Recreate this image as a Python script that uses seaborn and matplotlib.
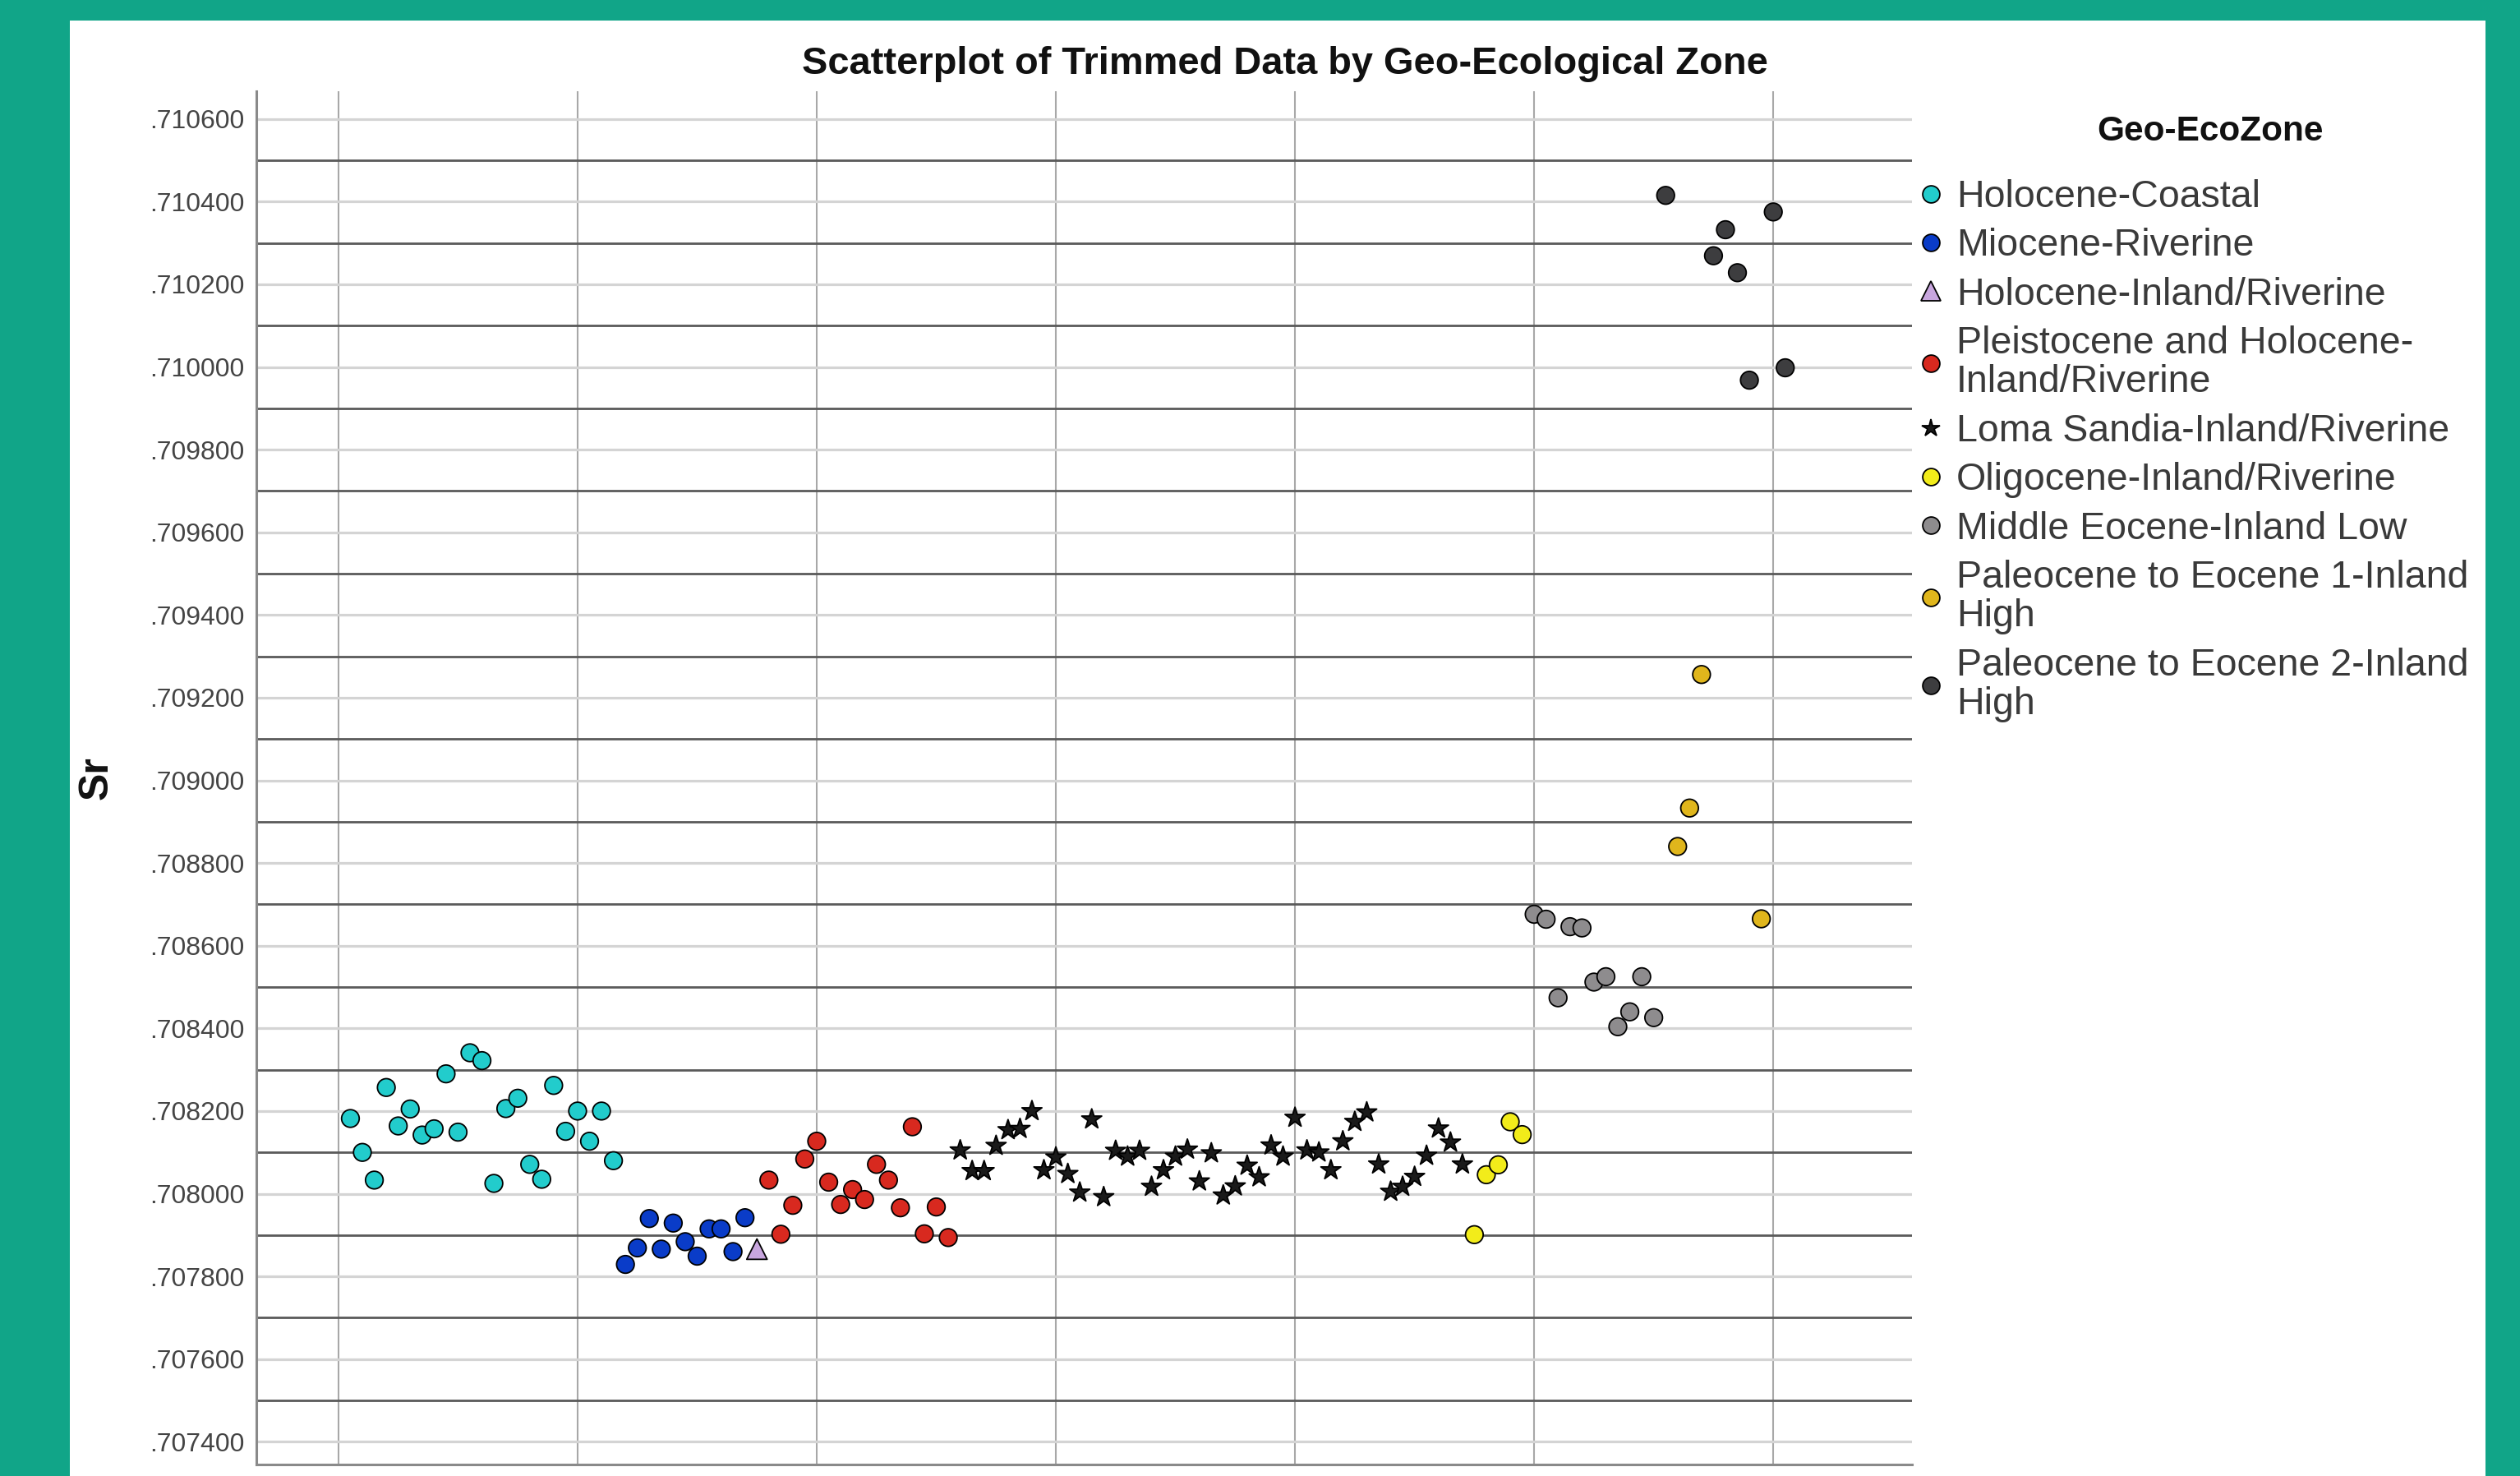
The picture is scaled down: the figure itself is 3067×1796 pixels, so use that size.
import numpy as np
import pandas as pd
import seaborn as sns
import matplotlib.pyplot as plt
from matplotlib.patches import Rectangle
from matplotlib.ticker import FuncFormatter, MultipleLocator

# --- DATA (case number, Sr value) per Geo-EcoZone ---
zones = [
    "Holocene-Coastal",
    "Miocene-Riverine",
    "Holocene-Inland/Riverine",
    "Pleistocene and Holocene-Inland/Riverine",
    "Loma Sandia-Inland/Riverine",
    "Oligocene-Inland/Riverine",
    "Middle Eocene-Inland Low",
    "Paleocene to Eocene 1-Inland High",
    "Paleocene to Eocene 2-Inland High",
]
legend_labels = [
    "Holocene-Coastal",
    "Miocene-Riverine",
    "Holocene-Inland/Riverine",
    "Pleistocene and Holocene-\nInland/Riverine",
    "Loma Sandia-Inland/Riverine",
    "Oligocene-Inland/Riverine",
    "Middle Eocene-Inland Low",
    "Paleocene to Eocene 1-Inland\nHigh",
    "Paleocene to Eocene 2-Inland\nHigh",
]

coastal_case = list(range(1, 24))
coastal_sr = [0.708182, 0.708100, 0.708033, 0.708257, 0.708164, 0.708205, 0.708142,
              0.708157, 0.708290, 0.708149, 0.708341, 0.708322, 0.708025, 0.708206,
              0.708231, 0.708071, 0.708035, 0.708262, 0.708151, 0.708200, 0.708127,
              0.708200, 0.708080]

miocene_case = list(range(24, 35))
miocene_sr = [0.707829, 0.707869, 0.707940, 0.707866, 0.707929, 0.707884, 0.707849,
              0.707915, 0.707915, 0.707860, 0.707942]

holo_inland_case = [35]
holo_inland_sr = [0.707866]

pleisto_case = list(range(36, 52))
pleisto_sr = [0.708033, 0.707902, 0.707972, 0.708084, 0.708127, 0.708028, 0.707974,
              0.708010, 0.707986, 0.708071, 0.708033, 0.707966, 0.708162, 0.707903,
              0.707968, 0.707894]

loma_case = list(range(52, 95))
loma_sr = [0.708105, 0.708055, 0.708055, 0.708116, 0.708154, 0.708157, 0.708200,
           0.708057, 0.708088, 0.708048, 0.708003, 0.708180, 0.707992, 0.708104,
           0.708090, 0.708104, 0.708017, 0.708057, 0.708090, 0.708107, 0.708030,
           0.708098, 0.707996, 0.708018, 0.708068, 0.708040, 0.708117, 0.708090,
           0.708184, 0.708105, 0.708100, 0.708057, 0.708127, 0.708174, 0.708197,
           0.708071, 0.708005, 0.708017, 0.708041, 0.708092, 0.708158, 0.708124,
           0.708071]

oligo_case = list(range(95, 100))
oligo_sr = [0.707901, 0.708046, 0.708070, 0.708174, 0.708143]

mid_eocene_case = list(range(100, 111))
mid_eocene_sr = [0.708676, 0.708664, 0.708474, 0.708646, 0.708643, 0.708512, 0.708525,
                 0.708404, 0.708440, 0.708525, 0.708426]

paleo1_case = [112, 113, 114, 119]
paleo1_sr = [0.708840, 0.708933, 0.709256, 0.708665]

paleo2_case = [111, 115, 116, 117, 118, 120, 121]
paleo2_sr = [0.710415, 0.710269, 0.710332, 0.710228, 0.709968, 0.710375, 0.709998]

cases = [coastal_case, miocene_case, holo_inland_case, pleisto_case, loma_case,
         oligo_case, mid_eocene_case, paleo1_case, paleo2_case]
values = [coastal_sr, miocene_sr, holo_inland_sr, pleisto_sr, loma_sr,
          oligo_sr, mid_eocene_sr, paleo1_sr, paleo2_sr]

colors = ["#22cccc", "#0a3cc8", "#c8a6de", "#d8291f", "#1a1a1a",
          "#f2ec1a", "#8e8c8e", "#e0b61c", "#3d3d3f"]
marker_list = ["o", "o", "^", "o", "*", "o", "o", "o", "o"]
marker_area = [240, 240, 320, 240, 340, 240, 240, 240, 240]
legend_msize = [15, 15, 17, 15, 16, 15, 15, 15, 15]

rows = []
for z, cs, vs, a in zip(zones, cases, values, marker_area):
    for c, v in zip(cs, vs):
        rows.append({"case": c, "Sr": v, "zone": z, "area": a})
df = pd.DataFrame(rows)

# --- FIGURE ---
sns.set_style("white")
plt.rcParams["font.family"] = ["Liberation Sans", "DejaVu Sans"]

W, H = 3067, 1796
fig = plt.figure(figsize=(W / 100, H / 100), dpi=100)
fig.patch.set_facecolor("#11a588")
fig.add_artist(Rectangle((85 / W, 0), (3025 - 85) / W, 1 - 25 / H,
                         transform=fig.transFigure, facecolor="white",
                         edgecolor="none", zorder=0))

ax = fig.add_axes([311.5 / W, 14 / H, (2327 - 311.5) / W, (1782 - 111) / H])
ax.set_facecolor("white")

sns.scatterplot(data=df, x="case", y="Sr", hue="zone", style="zone",
                hue_order=zones, style_order=zones,
                palette=dict(zip(zones, colors)),
                markers=dict(zip(zones, marker_list)),
                s=240, edgecolor="black", linewidth=1.3, ax=ax, zorder=3)
# per-marker areas (stars and the triangle draw a bit larger)
ax.collections[-1].set_sizes(df["area"].to_numpy())

ax.set_xlim(-6.9, 131.6)
ax.set_ylim(0.707345, 0.710667)

ax.yaxis.set_major_locator(MultipleLocator(0.0002))
ax.yaxis.set_minor_locator(MultipleLocator(0.0001))
ax.xaxis.set_major_locator(MultipleLocator(20))
ax.yaxis.set_major_formatter(FuncFormatter(lambda v, p: f"{v:.6f}"[1:]))

ax.set_axisbelow(True)
ax.grid(which="major", axis="y", color="#d4d4d4", lw=2.3)
ax.grid(which="minor", axis="y", color="#5a5a5a", lw=2.0)
ax.grid(which="major", axis="x", color="#a8a8a8", lw=1.5)

ax.tick_params(axis="y", which="both", length=0, labelsize=23, labelcolor="#444444", pad=10)
ax.tick_params(axis="x", which="both", length=0, labelbottom=False)
ax.set_xlabel("")
ax.set_ylabel("")

for side in ["top", "right"]:
    ax.spines[side].set_visible(False)
for side in ["left", "bottom"]:
    ax.spines[side].set_color("#8a8a8a")
    ax.spines[side].set_linewidth(2.2)

# --- TEXT ---
fig.text(1564 / W, 1 - 78 / H, "Scatterplot of Trimmed Data by Geo-Ecological Zone",
         ha="center", va="center", fontsize=33.8, fontweight="bold", color="#111111")
fig.text(118 / W, 1 - 947 / H, "Sr", rotation=90, ha="center", va="center",
         fontsize=36, fontweight="bold", color="#111111")
fig.text(2690 / W, 1 - 160 / H, "Geo-EcoZone", ha="center", va="center",
         fontsize=30.5, fontweight="bold", color="#111111")

# --- LEGEND ---
handles, _ = ax.get_legend_handles_labels()
ax.get_legend().remove()
for h, ms in zip(handles, legend_msize):
    h.set_markersize(ms)
    h.set_markeredgewidth(1.3)
    h.set_markeredgecolor("black")
leg = ax.legend(handles, legend_labels, loc="upper left",
                bbox_to_anchor=(2336 / W, 1 - 218 / H), bbox_transform=fig.transFigure,
                frameon=False, fontsize=33.5, handlelength=0.6, handletextpad=0.37,
                labelspacing=0.33, borderpad=0, borderaxespad=0)
for t in leg.get_texts():
    t.set_color("#3a3a3a")
    t.set_linespacing(1.1)

fig.savefig("out.png", dpi=100, facecolor=fig.get_facecolor())
